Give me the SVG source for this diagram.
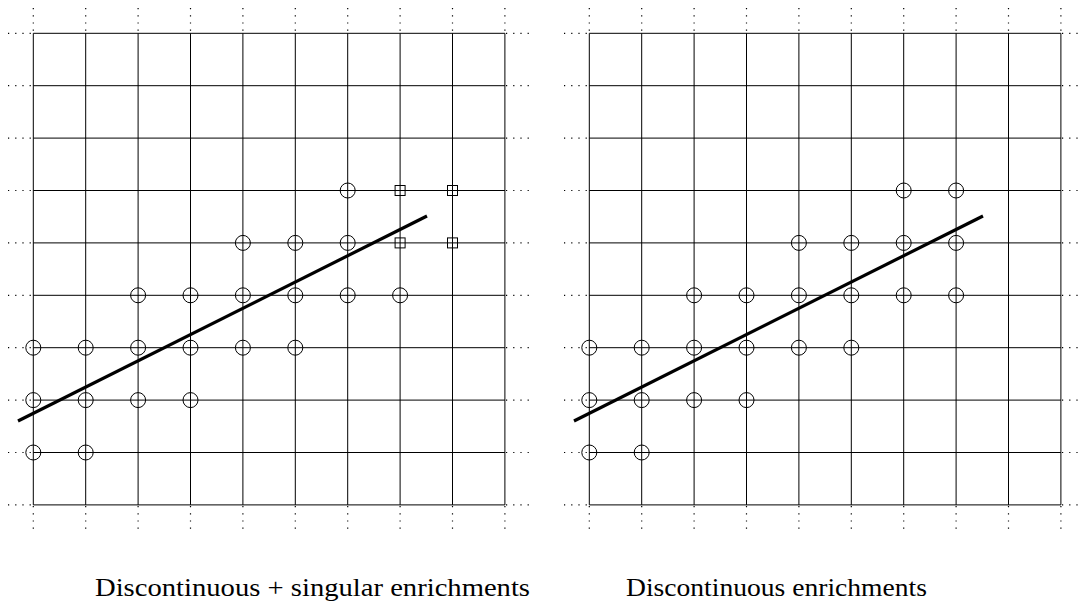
<svg xmlns="http://www.w3.org/2000/svg" xmlns:xlink="http://www.w3.org/1999/xlink" width="1078" height="605" viewBox="0 0 1078 605">
<style>
.grid{stroke:#000;stroke-width:1;fill:none}
.dot{stroke:#000;stroke-width:1.2;stroke-dasharray:1.2 6;fill:none}
.crack{stroke:#000;stroke-width:3.2;stroke-linecap:butt;fill:none}
.enr{stroke:#000;stroke-width:1;fill:none}
.cap{font-family:"Liberation Serif","DejaVu Serif",serif;font-size:25.5px;fill:#000}
</style>
<defs>
<g id="gridpanel">
<path class="grid" d="M33.3 33.3H504.9M33.3 85.7H504.9M33.3 138.1H504.9M33.3 190.5H504.9M33.3 242.9H504.9M33.3 295.3H504.9M33.3 347.7H504.9M33.3 400.1H504.9M33.3 452.5H504.9M33.3 504.9H504.9M33.3 33.3V504.9M85.7 33.3V504.9M138.1 33.3V504.9M190.5 33.3V504.9M242.9 33.3V504.9M295.3 33.3V504.9M347.7 33.3V504.9M400.1 33.3V504.9M452.5 33.3V504.9M504.9 33.3V504.9"/>
<path class="dot" d="M33.3 8V33M85.7 8V33M138.1 8V33M190.5 8V33M242.9 8V33M295.3 8V33M347.7 8V33M400.1 8V33M452.5 8V33M504.9 8V33M33.3 506V531M85.7 506V531M138.1 506V531M190.5 506V531M242.9 506V531M295.3 506V531M347.7 506V531M400.1 506V531M452.5 506V531M504.9 506V531M8 33.3H33M8 85.7H33M8 138.1H33M8 190.5H33M8 242.9H33M8 295.3H33M8 347.7H33M8 400.1H33M8 452.5H33M8 504.9H33M506 33.3H531M506 85.7H531M506 138.1H531M506 190.5H531M506 242.9H531M506 295.3H531M506 347.7H531M506 400.1H531M506 452.5H531M506 504.9H531"/>
</g>
<circle id="c" class="enr" r="7.5"/>
<rect id="s" class="enr" x="-5" y="-5" width="10" height="10"/>
</defs>

<g id="left-panel">
<use xlink:href="#gridpanel"/>
</g>
<g id="right-panel">
<use xlink:href="#gridpanel" transform="translate(556,0)"/>
</g>

<g id="connectors">
<line id="crack-left" class="crack" x1="18" y1="421" x2="427" y2="216"/>
<line id="crack-right" class="crack" x1="574" y1="421" x2="983" y2="216"/>
</g>

<g id="left-nodes">
<g id="L-r3"><use xlink:href="#c" x="347.7" y="190.5"/><use xlink:href="#s" x="400.1" y="190.5"/><use xlink:href="#s" x="452.5" y="190.5"/></g>
<g id="L-r4"><use xlink:href="#c" x="242.9" y="242.9"/><use xlink:href="#c" x="295.3" y="242.9"/><use xlink:href="#c" x="347.7" y="242.9"/><use xlink:href="#s" x="400.1" y="242.9"/><use xlink:href="#s" x="452.5" y="242.9"/></g>
<g id="L-r5"><use xlink:href="#c" x="138.1" y="295.3"/><use xlink:href="#c" x="190.5" y="295.3"/><use xlink:href="#c" x="242.9" y="295.3"/><use xlink:href="#c" x="295.3" y="295.3"/><use xlink:href="#c" x="347.7" y="295.3"/><use xlink:href="#c" x="400.1" y="295.3"/></g>
<g id="L-r6"><use xlink:href="#c" x="33.3" y="347.7"/><use xlink:href="#c" x="85.7" y="347.7"/><use xlink:href="#c" x="138.1" y="347.7"/><use xlink:href="#c" x="190.5" y="347.7"/><use xlink:href="#c" x="242.9" y="347.7"/><use xlink:href="#c" x="295.3" y="347.7"/></g>
<g id="L-r7"><use xlink:href="#c" x="33.3" y="400.1"/><use xlink:href="#c" x="85.7" y="400.1"/><use xlink:href="#c" x="138.1" y="400.1"/><use xlink:href="#c" x="190.5" y="400.1"/></g>
<g id="L-r8"><use xlink:href="#c" x="33.3" y="452.5"/><use xlink:href="#c" x="85.7" y="452.5"/></g>
</g>

<g id="right-nodes">
<g id="R-r3"><use xlink:href="#c" x="903.7" y="190.5"/><use xlink:href="#c" x="956.1" y="190.5"/></g>
<g id="R-r4"><use xlink:href="#c" x="798.9" y="242.9"/><use xlink:href="#c" x="851.3" y="242.9"/><use xlink:href="#c" x="903.7" y="242.9"/><use xlink:href="#c" x="956.1" y="242.9"/></g>
<g id="R-r5"><use xlink:href="#c" x="694.1" y="295.3"/><use xlink:href="#c" x="746.5" y="295.3"/><use xlink:href="#c" x="798.9" y="295.3"/><use xlink:href="#c" x="851.3" y="295.3"/><use xlink:href="#c" x="903.7" y="295.3"/><use xlink:href="#c" x="956.1" y="295.3"/></g>
<g id="R-r6"><use xlink:href="#c" x="589.3" y="347.7"/><use xlink:href="#c" x="641.7" y="347.7"/><use xlink:href="#c" x="694.1" y="347.7"/><use xlink:href="#c" x="746.5" y="347.7"/><use xlink:href="#c" x="798.9" y="347.7"/><use xlink:href="#c" x="851.3" y="347.7"/></g>
<g id="R-r7"><use xlink:href="#c" x="589.3" y="400.1"/><use xlink:href="#c" x="641.7" y="400.1"/><use xlink:href="#c" x="694.1" y="400.1"/><use xlink:href="#c" x="746.5" y="400.1"/></g>
<g id="R-r8"><use xlink:href="#c" x="589.3" y="452.5"/><use xlink:href="#c" x="641.7" y="452.5"/></g>
</g>

<g id="captions">
<text class="cap" x="95" y="596" textLength="435" lengthAdjust="spacingAndGlyphs">Discontinuous + singular enrichments</text>
<text class="cap" x="626" y="596" textLength="301" lengthAdjust="spacingAndGlyphs">Discontinuous enrichments</text>
</g>
</svg>
